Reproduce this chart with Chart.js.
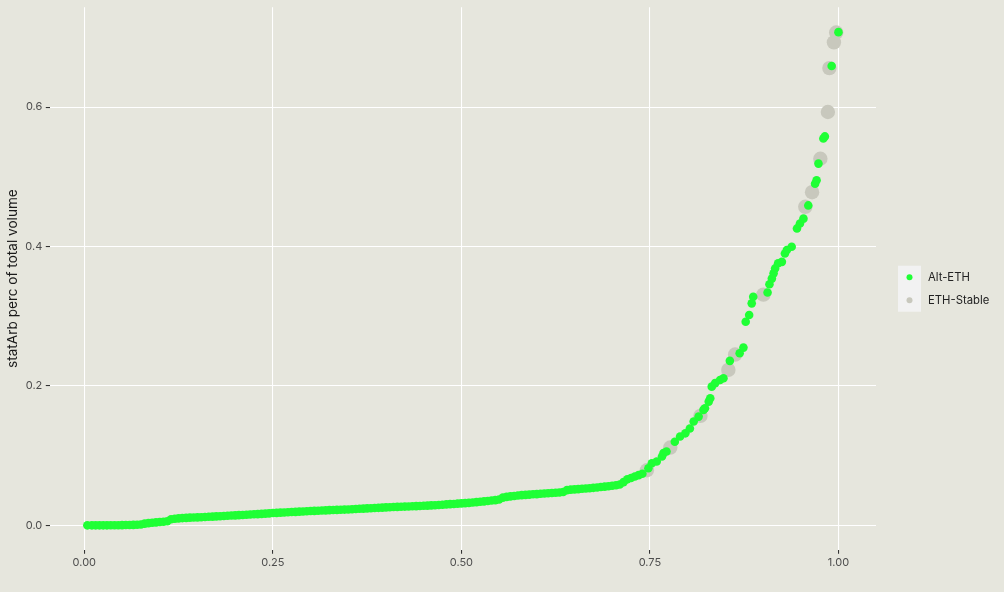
<!DOCTYPE html>
<html><head><meta charset="utf-8">
<script src="https://cdn.jsdelivr.net/npm/chart.js@4.4.1/dist/chart.umd.min.js"></script>
<style>html,body{margin:0;padding:0;background:#e6e6dd;} #wrap{width:1004px;height:592px;position:relative;}</style>
</head><body><div id="wrap"><canvas id="c" width="1004" height="592"></canvas></div>
<script>
const seriesNames = ['Alt-ETH', 'ETH-Stable'];
const altEthX = [0.004,0.010,0.015,0.020,0.025,0.030,0.035,0.040,0.045,0.050,0.055,0.060,0.065,0.070,0.075,0.080,0.085,0.090,0.095,0.100,
0.105,0.110,0.115,0.120,0.125,0.130,0.135,0.140,0.145,0.150,0.155,0.160,0.165,0.170,0.175,0.180,0.185,0.190,0.195,0.200,
0.205,0.210,0.215,0.220,0.225,0.230,0.235,0.240,0.245,0.250,0.255,0.260,0.265,0.270,0.275,0.280,0.285,0.290,0.295,0.300,
0.305,0.310,0.315,0.320,0.325,0.330,0.335,0.340,0.345,0.350,0.355,0.360,0.365,0.370,0.375,0.380,0.385,0.390,0.395,0.400,
0.405,0.410,0.415,0.420,0.425,0.430,0.435,0.440,0.445,0.450,0.455,0.460,0.465,0.470,0.475,0.480,0.485,0.490,0.495,0.500,
0.505,0.510,0.515,0.520,0.525,0.530,0.535,0.540,0.545,0.550,0.555,0.560,0.565,0.570,0.575,0.580,0.585,0.590,0.595,0.600,
0.605,0.610,0.615,0.620,0.625,0.630,0.635,0.640,0.645,0.650,0.655,0.660,0.665,0.670,0.675,0.680,0.685,0.690,0.695,0.700,
0.705,0.710,0.715,0.720,0.725,0.730,0.735,0.740,
0.748,0.7525,0.759,0.766,0.768,0.772,0.783,0.790,0.797,0.803,0.808,0.8146,0.821,0.823,0.828,0.830,0.832,0.8365,0.843,0.8475,
0.856,0.869,0.874,0.877,0.8816,0.885,0.887,0.906,0.9085,0.9117,0.914,0.916,0.920,0.925,0.929,0.9316,0.938,0.945,0.949,0.9536,
0.960,0.969,0.971,0.9735,0.980,0.982,0.991,1.000];
const altEthY = [0.0000,0.0000,0.0000,0.0000,0.0000,0.0000,0.0001,0.0001,0.0002,0.0003,0.0004,0.0005,0.0006,0.0008,0.0012,0.0025,0.0032,0.0036,0.0042,0.0047,
0.0052,0.0058,0.0088,0.0095,0.0100,0.0104,0.0107,0.0110,0.0112,0.0114,0.0116,0.0119,0.0122,0.0125,0.0128,0.0131,0.0134,0.0137,0.0140,0.0143,
0.0146,0.0149,0.0152,0.0155,0.0158,0.0161,0.0164,0.0168,0.0172,0.0176,0.0179,0.0182,0.0185,0.0188,0.0191,0.0193,0.0196,0.0199,0.0202,0.0205,
0.0207,0.0209,0.0212,0.0215,0.0218,0.0220,0.0222,0.0224,0.0226,0.0228,0.0231,0.0234,0.0237,0.0240,0.0243,0.0246,0.0248,0.0251,0.0254,0.0257,
0.0260,0.0263,0.0265,0.0267,0.0269,0.0271,0.0273,0.0276,0.0278,0.0280,0.0283,0.0286,0.0289,0.0292,0.0296,0.0300,0.0304,0.0307,0.0311,0.0315,
0.0318,0.0322,0.0327,0.0333,0.0338,0.0344,0.0350,0.0357,0.0362,0.0370,0.0398,0.0408,0.0415,0.0421,0.0427,0.0433,0.0437,0.0441,0.0445,0.0448,
0.0452,0.0456,0.0460,0.0464,0.0468,0.0472,0.0478,0.0505,0.0512,0.0516,0.0520,0.0524,0.0528,0.0533,0.0538,0.0543,0.0549,0.0555,0.0561,0.0567,
0.0575,0.0586,0.0620,0.0660,0.0680,0.0700,0.0720,0.0740,
0.082,0.089,0.0916,0.0987,0.1036,0.106,0.120,0.1274,0.132,0.139,0.149,0.156,0.1656,0.168,0.1775,0.1824,0.199,0.204,0.2086,0.211,
0.236,0.247,0.255,0.292,0.3017,0.3185,0.328,0.334,0.346,0.354,0.3615,0.3686,0.376,0.378,0.390,0.395,0.3996,0.426,0.433,0.440,
0.459,0.490,0.495,0.519,0.555,0.558,0.659,0.7076];
const ethStableX = [0.746,0.777,0.817,0.854,0.863,0.9005,0.956,0.965,0.976,0.986,0.988,0.994,0.997];
const ethStableY = [0.079,0.1116,0.157,0.223,0.245,0.331,0.457,0.478,0.526,0.593,0.656,0.693,0.707];
const xTickValues = [0, 0.25, 0.5, 0.75, 1.0];
const xTickLabels = ['0.00', '0.25', '0.50', '0.75', '1.00'];
const yTickValues = [0, 0.2, 0.4, 0.6];
const yTickLabels = ['0.0', '0.2', '0.4', '0.6'];
const yAxisTitle = 'statArb perc of total volume';

const BG = '#e6e6dd';
const GREEN = '#1fff35';
const GREY = '#c8c8bd';
const FONT = 'Inter, "DejaVu Sans", sans-serif';

const toPts = (xs, ys) => xs.map((x, i) => ({x: x, y: ys[i]}));

const bgPlugin = {
  id: 'bg',
  beforeDraw(chart) {
    const ctx = chart.ctx;
    ctx.save();
    ctx.fillStyle = BG;
    ctx.fillRect(0, 0, chart.width, chart.height);
    ctx.restore();
  }
};

const legendPlugin = {
  id: 'ggLegend',
  afterDraw(chart) {
    const ctx = chart.ctx;
    const left = chart.chartArea.right + 22;
    const top = 265.7;
    const key = 23;
    ctx.save();
    ctx.fillStyle = '#f2f2f2';
    ctx.fillRect(left, top, key, key * 2);
    const cols = [GREEN, GREY];
    seriesNames.forEach((name, i) => {
      const cy = top + key * i + key / 2;
      ctx.beginPath();
      ctx.arc(left + key / 2, cy, 3, 0, Math.PI * 2);
      ctx.fillStyle = cols[i];
      ctx.fill();
      ctx.fillStyle = '#222';
      ctx.font = '11.3px ' + FONT;
      ctx.textBaseline = 'middle';
      ctx.textAlign = 'left';
      ctx.fillText(name, left + key + 7, cy + 0.5);
    });
    ctx.restore();
  }
};

new Chart(document.getElementById('c'), {
  type: 'scatter',
  data: {
    datasets: [
      {label: seriesNames[0], data: toPts(altEthX, altEthY), backgroundColor: GREEN, borderWidth: 0, pointRadius: 4.3, pointHoverRadius: 4.3},
      {label: seriesNames[1], data: toPts(ethStableX, ethStableY), backgroundColor: GREY, borderWidth: 0, pointRadius: 7.2, pointHoverRadius: 7.2}
    ]
  },
  options: {
    responsive: false,
    animation: false,
    events: [],
    layout: {padding: {left: 0, top: 6.7, right: 128, bottom: 0}},
    plugins: {legend: {display: false}, tooltip: {enabled: false}},
    scales: {
      x: {
        type: 'linear', min: -0.0458, max: 1.0498,
        afterBuildTicks: s => { s.ticks = xTickValues.map(v => ({value: v})); },
        afterFit: s => { s.height = 42; s.paddingLeft = 0; s.paddingRight = 0; },
        ticks: {
          autoSkip: false, maxRotation: 0, padding: 2.5, color: '#4d4d4d',
          font: {family: FONT, size: 11},
          callback: (v, i) => xTickLabels[i]
        },
        grid: {color: '#ffffff', lineWidth: 1.07, drawTicks: true, tickLength: 3.7, tickColor: '#333333', tickWidth: 1.07},
        border: {display: false}
      },
      y: {
        type: 'linear', min: -0.0354, max: 0.7434,
        afterBuildTicks: s => { s.ticks = yTickValues.map(v => ({value: v})); },
        afterFit: s => { s.width = 49.8; s.paddingTop = 0; s.paddingBottom = 0; },
        ticks: {
          autoSkip: false, padding: 3.5, color: '#4d4d4d',
          font: {family: FONT, size: 11},
          callback: (v, i) => yTickLabels[i]
        },
        title: {display: true, text: yAxisTitle, color: '#1a1a1a', font: {family: FONT, size: 13.6}, padding: {top: 5, bottom: 0}},
        grid: {color: '#ffffff', lineWidth: 1.07, drawTicks: true, tickLength: 4, tickColor: '#333333', tickWidth: 1.07},
        border: {display: false}
      }
    }
  },
  plugins: [bgPlugin, legendPlugin]
});
</script>
</body></html>
